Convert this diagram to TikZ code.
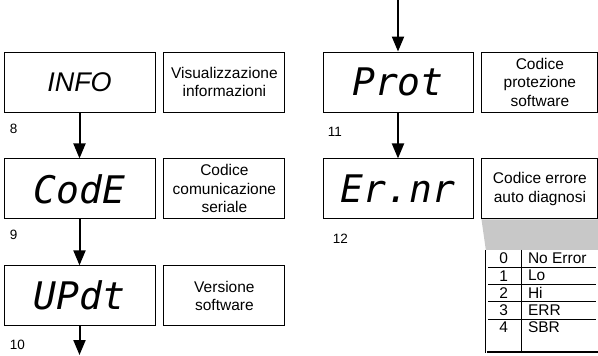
\documentclass[tikz,border=0pt]{standalone}
\usepackage{fontspec}
\setmainfont{Liberation Sans}
\newfontfamily\segfont{DejaVu Sans Mono}
\usetikzlibrary{arrows.meta, positioning, calc}
\definecolor{greyfill}{RGB}{200,200,200}
\newcommand{\descfont}{\fontsize{15.5}{18.5}\selectfont}

\begin{document}
\begin{tikzpicture}[x=1pt,y=-1pt,
  disp/.style={draw,line width=0.9pt,minimum width=151pt,minimum height=60pt,inner sep=0pt,
    font=\segfont\itshape\fontsize{38}{40}\selectfont},
  desc/.style={draw,line width=0.9pt,minimum width=121pt,minimum height=60pt,inner sep=0pt,
    align=center,font=\descfont},
  lbl/.style={inner sep=0pt,font=\fontsize{13.5}{15}\selectfont},
  arr/.style={-{Triangle[width=12pt,length=15pt]},line width=2pt},
  cell/.style={inner sep=0pt,font=\descfont}]
  \useasboundingbox (0,0) rectangle (598,356);
  %% left column
  \node[disp,font=\itshape\fontsize{27}{30}\selectfont](info) at (79.5,82){INFO};
  \node[desc,right=8pt of info](infot){Visualizzazione\\informazioni};
  \node[disp,below=46pt of info](code){CodE};
  \node[desc,right=8pt of code](codet){Codice\\comunicazione\\seriale};
  \node[disp,below=46pt of code](updt){UPdt};
  \node[desc,right=8pt of updt](updtt){Versione\\software};
  \node[lbl,below right=11pt and 6pt of info.south west]{8};
  \node[lbl,below right=11pt and 6pt of code.south west]{9};
  \node[lbl,below right=14pt and 6pt of updt.south west]{10};
  \coordinate(endl) at (79.5,355);
  \draw[arr](info)--(code);
  \draw[arr](code)--(updt);
  \draw[arr](updt)--(endl);
  %% right column
  \node[disp,minimum width=150pt](prot) at (398,82){Prot};
  \node[desc,minimum width=116pt,right=8pt of prot](prott){Codice\\protezione\\software};
  \node[disp,minimum width=150pt,below=46pt of prot](ernr){Er.nr};
  \node[desc,minimum width=116pt,right=8pt of ernr](ernrt){Codice errore\\auto diagnosi};
  \node[lbl,below right=15pt and 5pt of prot.south west]{11};
  \node[lbl,below right=15pt and 10pt of ernr.south west]{12};
  \coordinate(startr) at (398,0);
  \draw[arr](startr)--(prot);
  \draw[arr](prot)--(ernr);
  %% error table
  \node[minimum width=112pt,minimum height=103pt,inner sep=0pt](tab) at (542,301.5){};
  \fill[greyfill](ernrt.south west)--($(ernrt.south east)+(1,0)$)--(tab.north east)--(tab.north west)--cycle;
  \draw[line width=0.9pt](tab.north west)--(tab.south west);
  \draw[line width=0.9pt]($(tab.north west)+(36,0)$)--($(tab.south west)+(36,0)$);
  \draw[line width=2.5pt]($(tab.south west)+(1,-1)$)--($(tab.south east)+(0,-1)$);
  \foreach \n/\t [count=\i from 0] in {0/No Error,1/Lo,2/Hi,3/ERR,4/SBR}{
    \node[cell](num\i) at ($(tab.north west)+(18,{8.6+17.3*\i})$){\n};
    \node[cell,anchor=west](err\i) at ($(tab.north west)+(42,{8.6+17.3*\i})$){\t};
  }
  \foreach \i in {1,...,4}
    \draw[line width=0.9pt]($(tab.north west)+(2,{17.3*\i})$)--($(tab.north east)+(-2,{17.3*\i})$);
\end{tikzpicture}
\end{document}
